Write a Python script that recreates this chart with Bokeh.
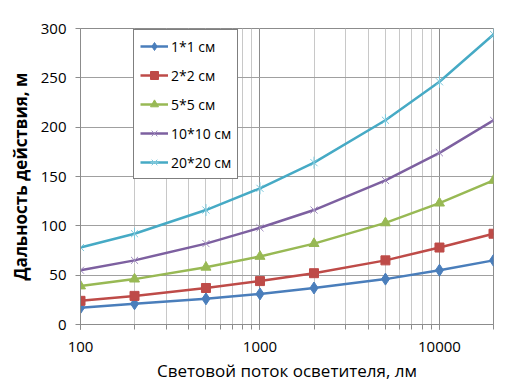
import math
from bokeh.plotting import figure
from bokeh.models import Legend, LegendItem, LogTicker, FixedTicker, NumeralTickFormatter
from bokeh.embed import file_html
from bokeh.resources import INLINE

flux = [100, 200, 500, 1000, 2000, 5000, 10000, 20000]
s_1x1 = [17, 21, 26, 31, 37, 46, 55, 65]
s_2x2 = [24, 29, 37, 44, 52, 65, 78, 92]
s_5x5 = [39, 46, 58, 69, 82, 103, 123, 146]
s_10x10 = [55, 65, 82, 98, 116, 146, 174, 207]
s_20x20 = [78, 92, 116, 138, 164, 207, 246, 294]
series_labels = ["1*1 см", "2*2 см", "5*5 см", "10*10 см", "20*20 см"]
y_ticks = [0, 50, 100, 150, 200, 250, 300]
x_label = "Световой поток осветителя, лм"
y_label = "Дальность действия, м"

colors = ["#4A7EBB", "#BE4B48", "#98B954", "#7D60A0", "#46AAC5"]
FONT = "Open Sans"

p = figure(width=523, height=384, x_axis_type="log", x_range=(100, 20000),
           y_range=(0, 300), output_backend="svg", toolbar_location=None,
           min_border_left=80, min_border_right=30, min_border_top=28,
           min_border_bottom=58, background_fill_color="white",
           border_fill_color="white")

p.outline_line_color = "#8c8c8c"
p.outline_line_width = 1

# axes
p.xaxis.ticker = LogTicker(num_minor_ticks=10, desired_num_ticks=3)
p.xaxis.formatter = NumeralTickFormatter(format="0")
p.yaxis.ticker = FixedTicker(ticks=y_ticks)
p.yaxis.minor_tick_line_color = None
for ax in (p.xaxis[0], p.yaxis[0]):
    ax.axis_line_color = "#8c8c8c"
    ax.major_tick_line_color = "#8c8c8c"
    ax.major_tick_out = 5
    ax.major_tick_in = 0
    ax.major_label_text_font = FONT
    ax.major_label_text_font_size = "15px"
    ax.major_label_text_color = "#000000"
    ax.axis_label_text_font = FONT
    ax.axis_label_text_color = "#000000"
p.xaxis.minor_tick_line_color = "#8c8c8c"
p.xaxis.minor_tick_out = 5
p.xaxis.minor_tick_in = 0
p.xaxis.major_label_standoff = 12
p.xaxis.axis_label = x_label
p.xaxis.axis_label_standoff = 4
p.xaxis.axis_label_text_font_size = "17px"
p.xaxis.axis_label_text_font_style = "normal"
p.yaxis.axis_label = y_label
p.yaxis.axis_label_text_font_size = "17px"
p.yaxis.axis_label_text_font_style = "bold"
p.yaxis.major_label_standoff = 9
p.yaxis.axis_label_standoff = 6

# grid
p.xgrid.ticker = p.xaxis.ticker
p.xgrid.grid_line_color = "#8c8c8c"
p.xgrid.minor_grid_line_color = "#c8c8c8"
p.ygrid.ticker = FixedTicker(ticks=y_ticks)
p.ygrid.grid_line_color = "#a0a0a0"

all_series = [s_1x1, s_2x2, s_5x5, s_10x10, s_20x20]
items = []
for i, (ys, lab, col) in enumerate(zip(all_series, series_labels, colors)):
    r_line = p.line(flux, ys, line_color=col, line_width=2.5)
    rs = [r_line]
    if i == 0:
        rs.append(p.scatter(flux, ys, marker="diamond", size=12, fill_color=col, line_color=col))
    elif i == 1:
        rs.append(p.scatter(flux, ys, marker="square", size=9, fill_color=col, line_color=col))
    elif i == 2:
        rs.append(p.scatter(flux, ys, marker="triangle", size=10, fill_color=col, line_color=col))
    elif i == 3:
        rs.append(p.scatter(flux, ys, marker="x", size=10, line_color="#A08CC0", line_width=1))
    else:
        rs.append(p.scatter(flux, ys, marker="x", size=10, line_color="#7CC8DC", line_width=1))
        rs.append(p.scatter(flux, ys, marker="dash", size=12, angle=math.pi / 2,
                            line_color="#7CC8DC", line_width=1))
    items.append(LegendItem(label=lab, renderers=rs))

legend = Legend(items=items, location=(53, 145), border_line_color="#000000",
                border_line_width=1, background_fill_color="white",
                background_fill_alpha=1.0, label_text_font=FONT,
                label_text_font_size="14px", label_text_color="#000000",
                glyph_width=28, glyph_height=20, label_height=20,
                spacing=9, padding=6, margin=0, label_standoff=3)
p.add_layout(legend, "center")

open("out.html", "w").write(file_html(p, INLINE))
